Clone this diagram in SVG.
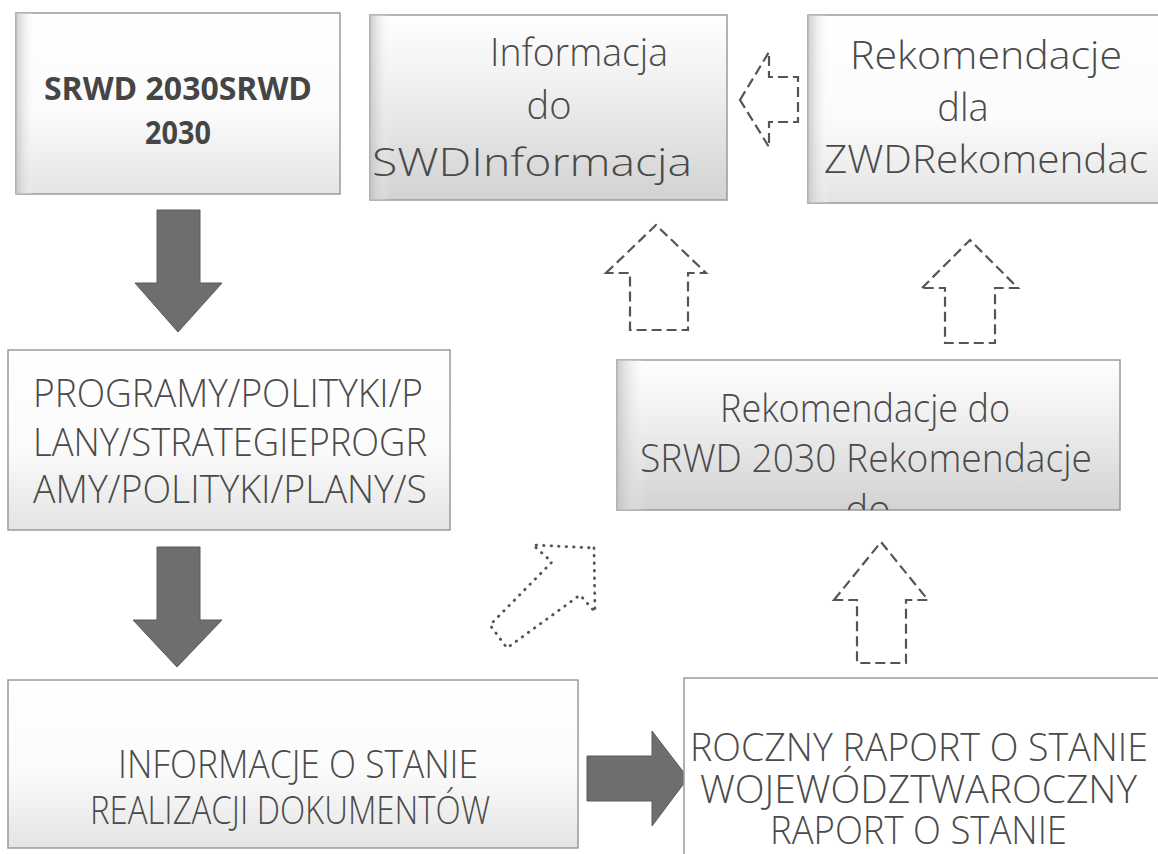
<svg xmlns="http://www.w3.org/2000/svg" width="1158" height="854" viewBox="0 0 1158 854">
<style>
.box{stroke:#9a9a9a;stroke-width:1.5}
.t{font-family:"Open Sans","Noto Sans","DejaVu Sans",sans-serif;font-size:38px;fill:#4a4a4a;font-weight:300}
.tb{font-family:"Open Sans","Noto Sans","DejaVu Sans",sans-serif;font-size:32px;fill:#454545;font-weight:700}
.solid{fill:#6e6e6e;stroke:#5a5a5a;stroke-width:1}
.dash{fill:#ffffff;stroke:#555;stroke-width:2.2;stroke-dasharray:10 5}
.dot{fill:#ffffff;stroke:#555;stroke-width:2.8;stroke-dasharray:0.5 7;stroke-linecap:round}
</style>
<defs>
<linearGradient id="gw" x1="0" y1="0" x2="0" y2="1">
<stop offset="0" stop-color="#ffffff"/><stop offset="0.55" stop-color="#fbfbfb"/><stop offset="1" stop-color="#e4e4e4"/>
</linearGradient>
<linearGradient id="gg" x1="0" y1="0" x2="0" y2="1">
<stop offset="0" stop-color="#ffffff"/><stop offset="0.4" stop-color="#efefef"/><stop offset="1" stop-color="#d2d2d2"/>
</linearGradient>
<linearGradient id="gl" x1="0" y1="0" x2="1" y2="0">
<stop offset="0" stop-color="#c0c0c0" stop-opacity="0.8"/><stop offset="0.06" stop-color="#ffffff" stop-opacity="0"/>
</linearGradient>
<clipPath id="cr"><rect x="617" y="360" width="503" height="150"/></clipPath>
</defs>
<rect width="1158" height="854" fill="#ffffff"/>

<g id="connectors">
<polygon class="solid" points="157,210 200,210 200,283 222,283 178,332 135,283 157,283"/>
<polygon class="solid" points="157,547 200,547 200,620 222,620 177,667 133,620 157,620"/>
<polygon class="solid" points="587,756 652,756 652,731 688,778 652,826 652,801 587,801"/>
<polygon class="dash" points="740,100 769,52 769,77 798,77 798,122 769,122 769,147"/>
<polygon class="dash" points="606,273 656,225 706,273 688,273 688,330 630,330 630,273"/>
<polygon class="dash" points="922,288 970,240 1018,288 995,288 995,343 945,343 945,288"/>
<polygon class="dash" points="834,600 881,542 928,600 906,600 906,663 857,663 857,600"/>
<polygon class="dot" points="594,548 595,612 580,595 507,648 490,625 552,562 533,545"/>
</g>

<g id="node-srwd">
<rect class="box" x="16" y="13" width="324" height="181" fill="url(#gw)"/>
<rect x="16" y="13" width="324" height="181" fill="url(#gl)"/>
<text class="tb" x="178" y="100" text-anchor="middle" textLength="268" lengthAdjust="spacingAndGlyphs">SRWD 2030SRWD</text>
<text class="tb" x="178" y="144" text-anchor="middle" textLength="66" lengthAdjust="spacingAndGlyphs">2030</text>
</g>

<g id="node-informacja">
<rect class="box" x="370" y="15" width="357" height="185" fill="url(#gg)"/>
<rect x="370" y="15" width="357" height="185" fill="url(#gl)"/>
<text class="t" x="490" y="66" textLength="178" lengthAdjust="spacingAndGlyphs">Informacja</text>
<text class="t" x="549" y="119" text-anchor="middle">do</text>
<text class="t" x="372" y="176" textLength="320" lengthAdjust="spacingAndGlyphs">SWDInformacja</text>
</g>

<g id="node-rekomendacje-zwd">
<rect class="box" x="808" y="15" width="362" height="188" fill="url(#gw)"/>
<rect x="808" y="15" width="362" height="188" fill="url(#gl)"/>
<text class="t" x="850" y="69" textLength="272" lengthAdjust="spacingAndGlyphs">Rekomendacje</text>
<text class="t" x="963" y="121" text-anchor="middle">dla</text>
<text class="t" x="824" y="173" textLength="324" lengthAdjust="spacingAndGlyphs">ZWDRekomendac</text>
</g>

<g id="node-programy">
<rect class="box" x="8" y="350" width="442" height="180" fill="url(#gw)"/>
<text class="t" x="33" y="407" textLength="390" lengthAdjust="spacingAndGlyphs">PROGRAMY/POLITYKI/P</text>
<text class="t" x="33" y="456" textLength="394" lengthAdjust="spacingAndGlyphs">LANY/STRATEGIEPROGR</text>
<text class="t" x="33" y="503" textLength="394" lengthAdjust="spacingAndGlyphs">AMY/POLITYKI/PLANY/S</text>
</g>

<g id="node-rekomendacje-srwd">
<rect class="box" x="617" y="360" width="503" height="150" fill="url(#gg)"/>
<rect x="617" y="360" width="503" height="150" fill="url(#gl)"/>
<text class="t" x="720" y="422" textLength="290" lengthAdjust="spacingAndGlyphs">Rekomendacje do</text>
<text class="t" x="640" y="472" textLength="452" lengthAdjust="spacingAndGlyphs">SRWD 2030 Rekomendacje</text>
<text class="t" x="868" y="523" text-anchor="middle" clip-path="url(#cr)">do</text>
</g>

<g id="node-informacje">
<rect class="box" x="8" y="680" width="570" height="168" fill="url(#gw)"/>
<text class="t" x="118" y="778" textLength="360" lengthAdjust="spacingAndGlyphs">INFORMACJE O STANIE</text>
<text class="t" x="90" y="824" textLength="400" lengthAdjust="spacingAndGlyphs">REALIZACJI DOKUMENTÓW</text>
</g>

<g id="node-roczny">
<rect class="box" x="684" y="678" width="490" height="190" fill="#ffffff"/>
<text class="t" x="690" y="761" textLength="458" lengthAdjust="spacingAndGlyphs">ROCZNY RAPORT O STANIE</text>
<text class="t" x="700" y="803" textLength="437" lengthAdjust="spacingAndGlyphs">WOJEWÓDZTWAROCZNY</text>
<text class="t" x="770" y="844" textLength="297" lengthAdjust="spacingAndGlyphs">RAPORT O STANIE</text>
</g>
</svg>
